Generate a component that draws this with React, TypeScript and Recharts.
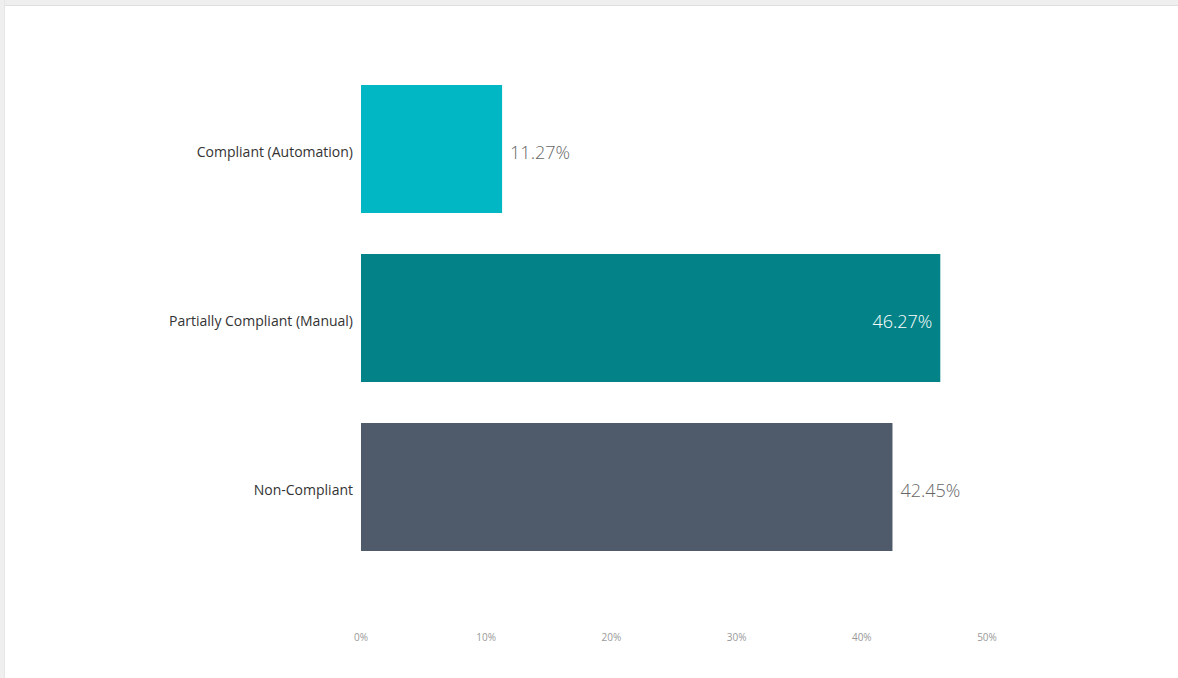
import React from "react";
import { BarChart, Bar, XAxis, YAxis, Cell, LabelList } from "recharts";

const categories = ["Compliant (Automation)", "Partially Compliant (Manual)", "Non-Compliant"];
const shares = [11.27, 46.27, 42.45];
const xTicks = [0, 10, 20, 30, 40, 50];

const palette = ["#00B7C3", "#038387", "#4F5B6B"];

const rows = categories.map((name, i) => ({ name, share: shares[i] }));

const fmtPct = (v: number) => `${v.toFixed(2)}%`;

// Power BI style: label outside the bar unless it runs past the plot edge
const ValueLabel = (props: any) => {
	const { x, y, width, height, value } = props;
	const endX = x + width;
	const inside = value > 45;
	return (
		<text
			x={inside ? endX - 8 : endX + 8}
			y={y + height / 2 + 3}
			textAnchor={inside ? "end" : "start"}
			dominantBaseline="central"
			fontSize={18}
			fill={inside ? "#ffffff" : "#666666"}
			fontFamily="'Open Sans', sans-serif"
			fontWeight={300}
		>
			{fmtPct(value)}
		</text>
	);
};

export default function App() {
	return (
		<div
			style={{
				position: "fixed",
				left: 0,
				top: 0,
				width: 1178,
				height: 678,
				background: "#ffffff",
				overflow: "hidden",
			}}
		>
			<div style={{ position: "absolute", left: 0, top: 0, width: 1178, height: 5, background: "#efefef", borderBottom: "1px solid #e0e0e0" }} />
			<div style={{ position: "absolute", left: 0, top: 0, width: 4, height: 678, background: "#efefef", borderRight: "1px solid #e6e6e6" }} />
			<div style={{ position: "absolute", left: 0, top: 0 }}>
				<BarChart
					width={1178}
					height={678}
					data={rows}
					layout="vertical"
					margin={{ top: 64, right: 191, left: 0, bottom: 27 }}
					barSize={128}
				>
					<XAxis
						type="number"
						domain={[0, 50]}
						ticks={xTicks}
						tickFormatter={(v) => `${v}%`}
						axisLine={false}
						tickLine={false}
						tickMargin={57}
						height={80}
						tick={{ fontSize: 10, fill: "#999999", fontFamily: "'Open Sans', sans-serif" }}
					/>
					<YAxis
						type="category"
						dataKey="name"
						width={361}
						axisLine={false}
						tickLine={false}
						tickMargin={2}
						tick={{ fontSize: 14, fill: "#333333", fontFamily: "'Open Sans', sans-serif", dy: 4 }}
					/>
					<Bar dataKey="share" isAnimationActive={false}>
						{rows.map((r, i) => (
							<Cell key={r.name} fill={palette[i]} />
						))}
						<LabelList dataKey="share" content={ValueLabel} />
					</Bar>
				</BarChart>
			</div>
		</div>
	);
}
